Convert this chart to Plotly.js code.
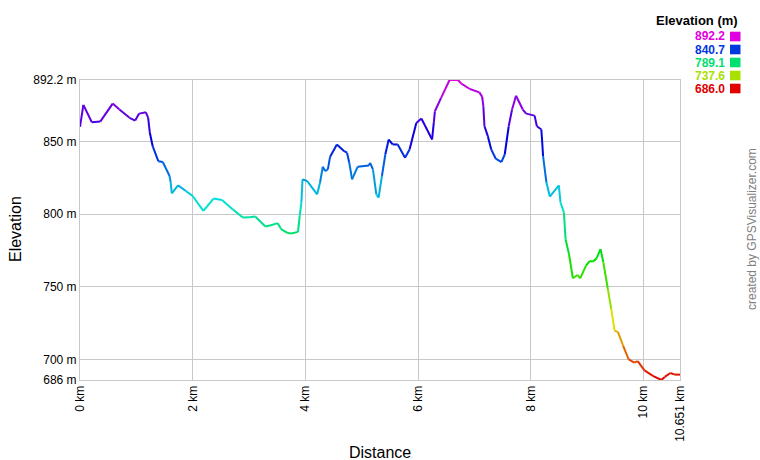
<!DOCTYPE html>
<html>
<head>
<meta charset="utf-8">
<script src="https://cdn.plot.ly/plotly-3.0.1.min.js"></script>
<style>html,body{margin:0;padding:0;background:#fff;}#chart{width:760px;height:460px;}</style>
</head>
<body>
<div id="chart"></div>
<script>
// Distance along track (km)
const dist = [0,0.06,0.21,0.36,0.58,0.70,0.88,0.98,1.05,1.17,
  1.21,1.24,1.29,1.39,1.47,1.59,1.61,1.63,1.74,1.88,
  2.00,2.19,2.37,2.52,2.71,2.89,3.01,3.11,3.29,3.39,
  3.51,3.57,3.69,3.75,3.87,3.90,3.93,3.95,4.03,4.21,
  4.26,4.31,4.35,4.40,4.44,4.56,4.69,4.74,4.78,4.83,
  4.93,5.13,5.15,5.20,5.26,5.30,5.36,5.42,5.48,5.55,
  5.64,5.77,5.85,5.97,6.06,6.25,6.28,6.30,6.41,6.56,
  6.71,6.77,6.92,7.09,7.14,7.16,7.18,7.24,7.30,7.38,
  7.48,7.54,7.61,7.67,7.74,7.86,7.92,8.07,8.11,8.19,
  8.22,8.28,8.34,8.50,8.53,8.59,8.62,8.68,8.75,8.83,
  8.88,8.98,9.05,9.10,9.17,9.24,9.29,9.37,9.43,9.49,
  9.55,9.64,9.74,9.84,9.90,10.02,10.17,10.32,10.38,10.48,
  10.56,10.651];
// Elevation (m)
const elev = [860.0,875.1,863.2,863.6,876.0,871.9,866.2,864.3,869.1,870.0,
  866.2,855.9,846.7,836.4,835.8,826.2,821.7,814.3,819.8,815.9,
  812.5,802.2,810.7,809.7,803.4,797.7,797.9,798.4,791.5,792.4,
  793.8,789.7,787.0,786.7,787.8,798.8,808.0,823.9,822.8,813.6,
  821.6,832.6,829.6,830.8,839.5,847.9,843.3,842.2,835.3,823.9,
  832.6,833.5,835.3,830.8,813.6,811.4,826.2,841.0,851.3,847.9,
  847.9,838.8,844.5,862.7,865.7,851.3,862.7,870.7,879.9,892.2,
  892.2,889.7,886.0,883.7,880.6,874.1,860.4,853.6,844.5,838.1,
  835.8,841.0,860.4,871.9,881.4,871.9,869.1,867.7,860.4,858.2,
  839.9,821.7,812.1,819.8,808.0,801.1,782.8,772.5,755.9,758.2,
  755.9,764.5,767.9,767.3,769.6,776.0,766.9,748.6,734.9,720.0,
  718.9,709.7,700.1,697.9,699.0,692.6,688.8,686.0,688.1,690.8,
  689.7,689.7];

const xTickVals = [0,2,4,6,8,10,10.651];
const xTickText = ['0 km','2 km','4 km','6 km','8 km','10 km','10.651 km'];
const yTickVals = [686,700,750,800,850,892.2];
const yTickText = ['686 m','700 m','750 m','800 m','850 m','892.2 m'];
const legendValues = [892.2,840.7,789.1,737.6,686.0];

const eMin = 686.0, eMax = 892.2;
function elevColor(e){
  const h = 300*Math.max(0,Math.min(1,(e-eMin)/(eMax-eMin)));
  const c = 224, hp = h/60;
  const x = Math.round(c*(1-Math.abs(hp%2-1)));
  let r,g,b;
  if(hp<1){r=c;g=x;b=0;}
  else if(hp<2){r=x;g=c;b=0;}
  else if(hp<3){r=0;g=c;b=x;}
  else if(hp<4){r=0;g=x;b=c;}
  else if(hp<5){r=x;g=0;b=c;}
  else {r=c;g=0;b=x;}
  return 'rgb('+r+','+g+','+b+')';
}

const traces = [];
for(let i=0;i<dist.length-1;i++){
  traces.push({
    type:'scatter', mode:'lines',
    x:[dist[i],dist[i+1]], y:[elev[i],elev[i+1]],
    line:{color:elevColor((elev[i]+elev[i+1])/2), width:2},
    hoverinfo:'skip', showlegend:false
  });
}

const FONT = 'Arial, "Liberation Sans", sans-serif';
const L=80, R=680, T=80, B=380;
const px = x => (x-L)/(R-L);
const py = y => (B-y)/(B-T);

const annotations = [
  {text:'Elevation (m)', xref:'paper', yref:'paper', x:px(740), y:py(21), xanchor:'right', yanchor:'middle', showarrow:false, font:{family:FONT,size:13,color:'#000',weight:'bold'}},
  {text:'Elevation', xref:'paper', yref:'paper', x:px(15), y:py(229), xanchor:'center', yanchor:'middle', textangle:-90, showarrow:false, font:{family:FONT,size:16,color:'#000'}},
  {text:'Distance', xref:'paper', yref:'paper', x:px(380), y:py(452), xanchor:'center', yanchor:'middle', showarrow:false, font:{family:FONT,size:16,color:'#000'}},
  {text:'created by GPSVisualizer.com', xref:'paper', yref:'paper', x:px(752), y:py(229), xanchor:'center', yanchor:'middle', textangle:-90, showarrow:false, font:{family:FONT,size:12,color:'#808080'}}
];
const shapes = [];
legendValues.forEach((v,i)=>{
  const yc = 36.5 + 13*i;
  const col = elevColor(v);
  annotations.push({text:v.toFixed(1), xref:'paper', yref:'paper', x:px(726), y:py(yc), xanchor:'right', yanchor:'middle', showarrow:false, borderpad:0, height:12, font:{family:FONT,size:12,color:col,weight:'bold'}});
  shapes.push({type:'rect', xref:'paper', yref:'paper', x0:px(730), x1:px(740.5), y0:py(yc+4.8), y1:py(yc-4.8), fillcolor:col, line:{width:0}});
});

const axisCommon = {showgrid:true, gridcolor:'#c8c8c8', gridwidth:1, showline:true, linecolor:'#c8c8c8', linewidth:1, mirror:true, zeroline:false, ticks:'', tickmode:'array', fixedrange:true, tickfont:{family:FONT,size:12,color:'#000'}};

const layout = {
  width:760, height:460,
  margin:{l:L, r:760-R, t:T, b:460-B, pad:0},
  paper_bgcolor:'#fff', plot_bgcolor:'#fff',
  font:{family:FONT,size:12,color:'#000'},
  xaxis:Object.assign({}, axisCommon, {range:[0,10.651], tickvals:xTickVals, ticktext:xTickText, tickangle:-90}),
  yaxis:Object.assign({}, axisCommon, {range:[eMin,eMax], tickvals:yTickVals, ticktext:yTickText}),
  annotations:annotations, shapes:shapes,
  showlegend:false, hovermode:false
};

Plotly.newPlot('chart', traces, layout, {displayModeBar:false, staticPlot:true});
</script>
</body>
</html>
